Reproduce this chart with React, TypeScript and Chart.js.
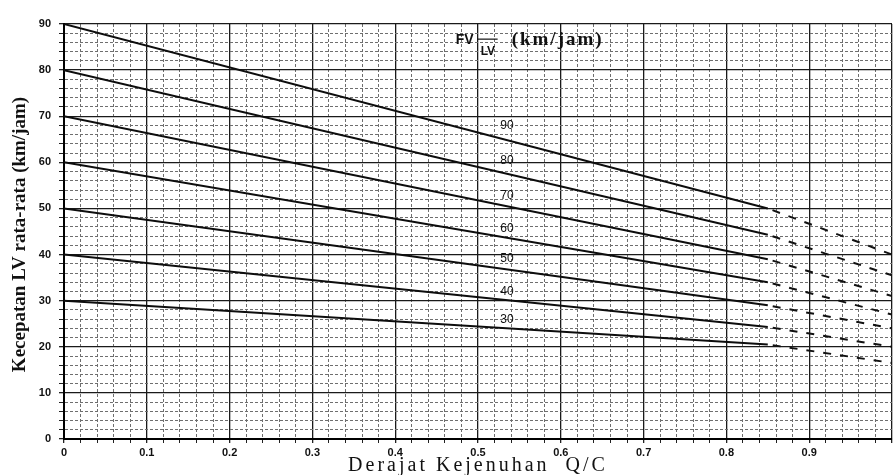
import React, { useEffect, useRef } from 'react';
import { Chart, registerables } from 'chart.js';

Chart.register(...registerables);

// ---- data ----
const FV_VALUES = [90, 80, 70, 60, 50, 40, 30];
const DS_START = 0;
const DS_BREAK = 0.85;
const DS_END = 1.0;
const SPEED_AT_BREAK = [50, 44.3, 39, 34, 29, 24.3, 20.5];
const SPEED_AT_END = [40, 35.5, 31, 27, 24, 20, 16.5];

const CURVE_LABELS = ['90', '80', '70', '60', '50', '40', '30'];
const CURVE_LABEL_DS = 0.535;
const CURVE_LABEL_SPEED = [68, 60.3, 52.7, 45.7, 39, 32, 25.9];

const X_MIN = 0;
const X_MAX = 1;
const X_STEP = 0.02;
const Y_MIN = 0;
const Y_MAX = 90;
const Y_STEP = 2;

const Y_TITLE = 'Kecepatan LV rata-rata (km/jam)';
const X_TITLE = 'Derajat Kejenuhan  Q/C';
const UNIT_MAIN = 'FV';
const UNIT_SUB = 'LV';
const UNIT_TEXT = '(km/jam)';
const UNIT_DS = 0.473;
const UNIT_SPEED = 86.5;

const isMajorX = (v: number) => Math.round(v * 50) % 5 === 0;
const isMajorY = (v: number) => Math.round(v) % 10 === 0;

const textPlugin = {
  id: 'textPlugin',
  afterDraw(chart: any) {
    const { ctx, scales, chartArea } = chart;
    const x = scales.x;
    const y = scales.y;
    ctx.save();
    ctx.fillStyle = '#111';
    ctx.strokeStyle = '#111';

    // curve labels
    ctx.font = '12px "Liberation Sans", Arial, sans-serif';
    ctx.textAlign = 'center';
    ctx.textBaseline = 'middle';
    CURVE_LABELS.forEach((t, i) => {
      ctx.fillText(t, x.getPixelForValue(CURVE_LABEL_DS), y.getPixelForValue(CURVE_LABEL_SPEED[i]));
    });

    // unit annotation
    const ux = x.getPixelForValue(UNIT_DS);
    const uy = y.getPixelForValue(UNIT_SPEED);
    ctx.textAlign = 'left';
    ctx.font = 'bold 14px "Liberation Sans", Arial, sans-serif';
    ctx.fillText(UNIT_MAIN, ux, uy);
    ctx.beginPath();
    ctx.lineWidth = 1.2;
    ctx.moveTo(ux + 22, uy - 1);
    ctx.lineTo(ux + 42, uy - 1);
    ctx.stroke();
    ctx.font = 'bold 12px "Liberation Sans", Arial, sans-serif';
    ctx.fillText(UNIT_SUB, ux + 25, uy + 12);
    ctx.font = 'bold 19px "Liberation Serif", serif';
    (ctx as any).letterSpacing = '2px';
    ctx.fillText(UNIT_TEXT, ux + 56, uy);
    (ctx as any).letterSpacing = '0px';

    // y title
    ctx.save();
    ctx.translate(20, (chartArea.top + chartArea.bottom) / 2 + 3);
    ctx.rotate(-Math.PI / 2);
    ctx.textAlign = 'center';
    ctx.textBaseline = 'middle';
    ctx.font = 'bold 19px "Liberation Serif", serif';
    ctx.fillText(Y_TITLE, 0, 0);
    ctx.restore();

    // x title
    ctx.textAlign = 'center';
    ctx.textBaseline = 'alphabetic';
    ctx.font = '20px "Liberation Serif", serif';
    (ctx as any).letterSpacing = '3px';
    ctx.fillText(X_TITLE, (chartArea.left + chartArea.right) / 2, chart.height - 4);
    (ctx as any).letterSpacing = '0px';
    ctx.restore();
  },
};

export default function App() {
  const ref = useRef<HTMLCanvasElement | null>(null);

  useEffect(() => {
    document.body.style.margin = '0';
    const canvas = ref.current;
    if (!canvas) return;

    const datasets: any[] = [];
    FV_VALUES.forEach((fv, i) => {
      datasets.push({
        data: [
          { x: DS_START, y: fv },
          { x: DS_BREAK, y: SPEED_AT_BREAK[i] },
        ],
        borderColor: '#0d0d0d',
        borderWidth: 2,
        pointRadius: 0,
        fill: false,
        tension: 0,
      });
      datasets.push({
        data: [
          { x: DS_BREAK, y: SPEED_AT_BREAK[i] },
          { x: DS_END, y: SPEED_AT_END[i] },
        ],
        borderColor: '#111',
        borderWidth: 2,
        borderDash: [8, 9],
        borderDashOffset: 12,
        pointRadius: 0,
        fill: false,
        tension: 0,
      });
    });

    const chart = new Chart(canvas, {
      type: 'line',
      data: { datasets },
      options: {
        animation: false,
        responsive: false,
        maintainAspectRatio: false,
        layout: { padding: { top: 24, right: 0, left: 0, bottom: 0 } },
        plugins: {
          legend: { display: false },
          tooltip: { enabled: false },
        },
        scales: {
          x: {
            type: 'linear',
            min: X_MIN,
            max: X_MAX,
            afterFit: (s: any) => {
              s.height = 36;
            },
            ticks: {
              stepSize: X_STEP,
              autoSkip: false,
              maxRotation: 0,
              minRotation: 0,
              maxTicksLimit: 100,
              padding: 3,
              color: '#111',
              font: { family: '"Liberation Sans", Arial, sans-serif', size: 11, weight: 'bold' },
              callback: (v: any) => {
                const k = Math.round(Number(v) * 50);
                if (k % 5 !== 0 || k >= 50) return '';
                return k === 0 ? '0' : (k / 50).toFixed(1);
              },
            },
            grid: {
              color: (c: any) => (c.tick && isMajorX(c.tick.value) ? '#1a1a1a' : '#6e6e6e'),
              lineWidth: (c: any) => (c.tick && isMajorX(c.tick.value) ? 1.3 : 1),
              tickLength: 4,
              tickColor: '#222',
            },
            border: {
              display: true,
              color: '#000',
              width: 2,
              dash: (c: any) => (c.tick && !isMajorX(c.tick.value) ? [3, 2] : []),
            },
          },
          y: {
            type: 'linear',
            min: Y_MIN,
            max: Y_MAX,
            afterFit: (s: any) => {
              s.width = 64;
            },
            ticks: {
              stepSize: Y_STEP,
              autoSkip: false,
              maxTicksLimit: 100,
              padding: 8,
              color: '#111',
              font: { family: '"Liberation Sans", Arial, sans-serif', size: 11, weight: 'bold' },
              callback: (v: any) => (isMajorY(Number(v)) ? String(v) : ''),
            },
            grid: {
              color: (c: any) => (c.tick && isMajorY(c.tick.value) ? '#1a1a1a' : '#6e6e6e'),
              lineWidth: (c: any) => (c.tick && isMajorY(c.tick.value) ? 1.3 : 1),
              tickLength: 5,
              tickColor: '#222',
            },
            border: {
              display: true,
              color: '#000',
              width: 2,
              dash: (c: any) => (c.tick && !isMajorY(c.tick.value) ? [3, 2] : []),
            },
          },
        },
      } as any,
      plugins: [textPlugin],
    });

    return () => chart.destroy();
  }, []);

  return (
    <div style={{ width: 895, height: 475, background: '#fff' }}>
      <canvas ref={ref} width={895} height={475} style={{ display: 'block' }} />
    </div>
  );
}
